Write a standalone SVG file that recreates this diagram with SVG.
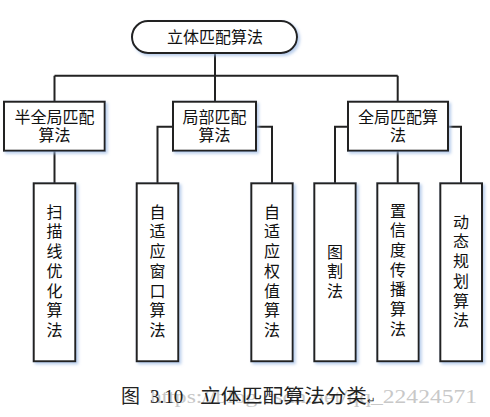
<svg xmlns="http://www.w3.org/2000/svg" width="490" height="417" viewBox="0 0 490 417">
<style>
.box{fill:#fff;stroke:#222;stroke-width:2;filter:url(#sh)}
.ln{fill:none;stroke:#222;stroke-width:2}
.t{font-family:"Noto Sans CJK SC","Liberation Sans",sans-serif;font-size:16px;fill:#111;text-anchor:middle}
.cap{font-family:"Liberation Serif","Noto Sans CJK SC",serif;font-size:19px;fill:#222}
.wm{font-family:"Liberation Serif",serif;font-size:19px;fill:#c8c8c8}
</style>
<defs>
<filter id="sh" x="-20%" y="-20%" width="150%" height="150%">
<feDropShadow dx="2" dy="2" stdDeviation="1.5" flood-color="#9bb9e4" flood-opacity="0.7"/>
</filter>
</defs>
<rect width="490" height="417" fill="#fff"/>
<text class="wm" x="150" y="403" textLength="327" lengthAdjust="spacingAndGlyphs">https://blog.csdn.net/qq_22424571</text>
<g id="connectors">
<path class="ln" d="M215 53V75.7M54.5 75.7H397.7M54.5 75.7V101.7M215 75.7V101.7M397.7 75.7V101.7"/>
<path class="ln" d="M54.5 150.7V183.3"/>
<path class="ln" d="M173 126.7H157.5V183.3M256 126.7H272V183.3"/>
<path class="ln" d="M348 126.7H335V183.3M448 126.7H461V183.3M397.7 150.7V183.3"/>
</g>
<g id="root">
<rect class="box" x="132" y="21" width="165" height="32" rx="16"/>
<text class="t" x="215" y="43">立体匹配算法</text>
</g>
<g id="semi">
<rect class="box" x="4" y="101.7" width="100.7" height="49"/>
<text class="t" x="54.5" y="122.5">半全局匹配</text>
<text class="t" x="54.5" y="141">算法</text>
</g>
<g id="local">
<rect class="box" x="173" y="101.7" width="83" height="49"/>
<text class="t" x="214.5" y="122.5">局部匹配</text>
<text class="t" x="214.5" y="141">算法</text>
</g>
<g id="global">
<rect class="box" x="348" y="101.7" width="100" height="49"/>
<text class="t" x="398" y="122.5">全局匹配算</text>
<text class="t" x="398" y="141">法</text>
</g>
<g id="leaf1">
<rect class="box" x="33.7" y="183.3" width="41.6" height="178"/>
<text class="t" x="54.5" y="217.7"><tspan x="54.5">扫</tspan><tspan x="54.5" dy="19.7">描</tspan><tspan x="54.5" dy="19.7">线</tspan><tspan x="54.5" dy="19.7">优</tspan><tspan x="54.5" dy="19.7">化</tspan><tspan x="54.5" dy="19.7">算</tspan><tspan x="54.5" dy="19.7">法</tspan></text>
</g>
<g id="leaf2">
<rect class="box" x="136.7" y="183.3" width="41.6" height="178"/>
<text class="t" x="157.5" y="217.7"><tspan x="157.5">自</tspan><tspan x="157.5" dy="19.7">适</tspan><tspan x="157.5" dy="19.7">应</tspan><tspan x="157.5" dy="19.7">窗</tspan><tspan x="157.5" dy="19.7">口</tspan><tspan x="157.5" dy="19.7">算</tspan><tspan x="157.5" dy="19.7">法</tspan></text>
</g>
<g id="leaf3">
<rect class="box" x="251.3" y="183.3" width="41.4" height="178"/>
<text class="t" x="272" y="217.7"><tspan x="272">自</tspan><tspan x="272" dy="19.7">适</tspan><tspan x="272" dy="19.7">应</tspan><tspan x="272" dy="19.7">权</tspan><tspan x="272" dy="19.7">值</tspan><tspan x="272" dy="19.7">算</tspan><tspan x="272" dy="19.7">法</tspan></text>
</g>
<g id="leaf4">
<rect class="box" x="314.3" y="183.3" width="41.4" height="178"/>
<text class="t" x="335" y="257.7"><tspan x="335">图</tspan><tspan x="335" dy="19.7">割</tspan><tspan x="335" dy="19.7">法</tspan></text>
</g>
<g id="leaf5">
<rect class="box" x="377.3" y="183.3" width="41.4" height="178"/>
<text class="t" x="398" y="216.5"><tspan x="398">置</tspan><tspan x="398" dy="19.7">信</tspan><tspan x="398" dy="19.7">度</tspan><tspan x="398" dy="19.7">传</tspan><tspan x="398" dy="19.7">播</tspan><tspan x="398" dy="19.7">算</tspan><tspan x="398" dy="19.7">法</tspan></text>
</g>
<g id="leaf6">
<rect class="box" x="440.3" y="183.3" width="41.7" height="178"/>
<text class="t" x="461" y="227.7"><tspan x="461">动</tspan><tspan x="461" dy="19.7">态</tspan><tspan x="461" dy="19.7">规</tspan><tspan x="461" dy="19.7">划</tspan><tspan x="461" dy="19.7">算</tspan><tspan x="461" dy="19.7">法</tspan></text>
</g>
<g id="caption">
<text class="cap" x="121" y="403">图</text>
<text class="cap" x="150" y="403">3.10</text>
<text class="cap" x="200" y="403" textLength="167" lengthAdjust="spacingAndGlyphs">立体匹配算法分类</text>
<text class="cap" x="367" y="404" style="font-size:10px">↵</text>
</g>
</svg>
